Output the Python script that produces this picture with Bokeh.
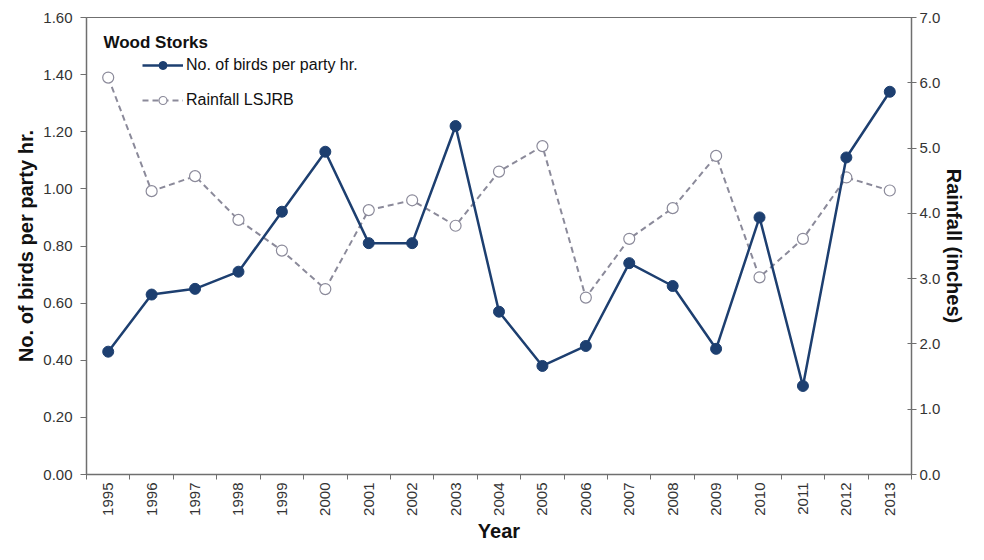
import math
from bokeh.plotting import figure
from bokeh.models import (Range1d, LinearAxis, FixedTicker, SingleIntervalTicker,
                          NumeralTickFormatter, Legend, LegendItem, Label)
from bokeh.embed import file_html
from bokeh.resources import INLINE

years = list(range(1995, 2014))
birds = [0.43, 0.63, 0.65, 0.71, 0.92, 1.13, 0.81, 0.81, 1.22, 0.57,
         0.38, 0.45, 0.74, 0.66, 0.44, 0.90, 0.31, 1.11, 1.34]
rain = [6.08, 4.34, 4.57, 3.90, 3.43, 2.84, 4.05, 4.20, 3.81, 4.64,
        5.03, 2.71, 3.61, 4.08, 4.88, 3.02, 3.61, 4.55, 4.35]

FONT = "Liberation Sans"
BLUE = "#1d3f70"
GRAY = "#8b8a9a"
AX = "#6f6f6f"
TXT = "#333333"

p = figure(width=968, height=544, output_backend="svg", toolbar_location=None,
           x_range=Range1d(1994.5, 2013.5), y_range=Range1d(0, 1.6),
           min_border_left=86, min_border_right=52, min_border_top=17,
           min_border_bottom=64)
p.extra_y_ranges = {"rain": Range1d(0, 7)}
p.grid.visible = False
p.outline_line_color = AX
p.outline_line_width = 1
p.background_fill_color = "white"
p.border_fill_color = "white"

# x axis
xa = p.xaxis[0]
xa.ticker = FixedTicker(ticks=years, minor_ticks=[y - 0.5 for y in years] + [years[-1] + 0.5])
xa.major_tick_line_color = None
xa.major_tick_in = 0
xa.major_tick_out = 5
xa.minor_tick_in = 0
xa.minor_tick_out = 5
xa.minor_tick_line_color = AX
xa.axis_line_color = AX
xa.axis_line_width = 1.5
xa.major_label_orientation = math.pi / 2
xa.major_label_text_font = FONT
xa.major_label_text_font_size = "15px"
xa.major_label_text_color = TXT
xa.major_label_standoff = 3
xa.axis_label = "Year"
xa.axis_label_text_font = FONT
xa.axis_label_text_font_style = "bold"
xa.axis_label_text_font_size = "20px"
xa.axis_label_text_color = "#111111"
xa.axis_label_standoff = 1

# left axis
ya = p.yaxis[0]
ya.ticker = SingleIntervalTicker(interval=0.2)
ya.formatter = NumeralTickFormatter(format="0.00")
ya.minor_tick_line_color = None
ya.major_tick_in = 0
ya.major_tick_out = 6
ya.major_tick_line_color = AX
ya.axis_line_color = AX
ya.axis_line_width = 1.5
ya.major_label_text_font = FONT
ya.major_label_text_font_size = "15px"
ya.major_label_text_color = TXT
ya.major_label_standoff = 8
ya.axis_label = "No. of birds per party hr."
ya.axis_label_text_font = FONT
ya.axis_label_text_font_style = "bold"
ya.axis_label_text_font_size = "20px"
ya.axis_label_text_color = "#111111"
ya.axis_label_standoff = 3

# right axis
ra = LinearAxis(y_range_name="rain", ticker=SingleIntervalTicker(interval=1),
                formatter=NumeralTickFormatter(format="0.0"))
ra.minor_tick_line_color = None
ra.major_tick_in = 4
ra.major_tick_out = 5
ra.major_tick_line_color = AX
ra.axis_line_color = AX
ra.axis_line_width = 1.5
ra.major_label_text_font = FONT
ra.major_label_text_font_size = "15px"
ra.major_label_text_color = TXT
ra.major_label_standoff = 3
ra.axis_label = "Rainfall (inches)"
ra.axis_label_text_font = FONT
ra.axis_label_text_font_style = "bold"
ra.axis_label_text_font_size = "20px"
ra.axis_label_text_color = "#111111"
ra.axis_label_standoff = 0
p.add_layout(ra, "right")

# series
rl = p.line(years, rain, y_range_name="rain", line_color=GRAY, line_width=2,
            line_dash="6 4")
rs = p.scatter(years, rain, y_range_name="rain", size=11, fill_color="white",
               line_color=GRAY, line_width=1.2)
bl = p.line(years, birds, line_color=BLUE, line_width=2.5)
bs = p.scatter(years, birds, size=11, fill_color=BLUE, line_color=BLUE)

legend = Legend(items=[LegendItem(label="No. of birds per party hr.", renderers=[bl, bs]),
                       LegendItem(label="Rainfall LSJRB", renderers=[rl, rs])],
                location=(56, 364), padding=0, margin=0, spacing=15,
                glyph_width=41, glyph_height=20, label_height=20, label_standoff=3,
                border_line_color=None, background_fill_alpha=0,
                label_text_font=FONT, label_text_font_size="16px",
                label_text_color="#111111")
p.add_layout(legend)

p.add_layout(Label(x=1994.89, y=1.514, text="Wood Storks", text_font=FONT,
                   text_font_style="bold", text_font_size="17px",
                   text_color="#111111", text_baseline="middle", text_align="left"))

open("out.html", "w").write(file_html(p, INLINE))
